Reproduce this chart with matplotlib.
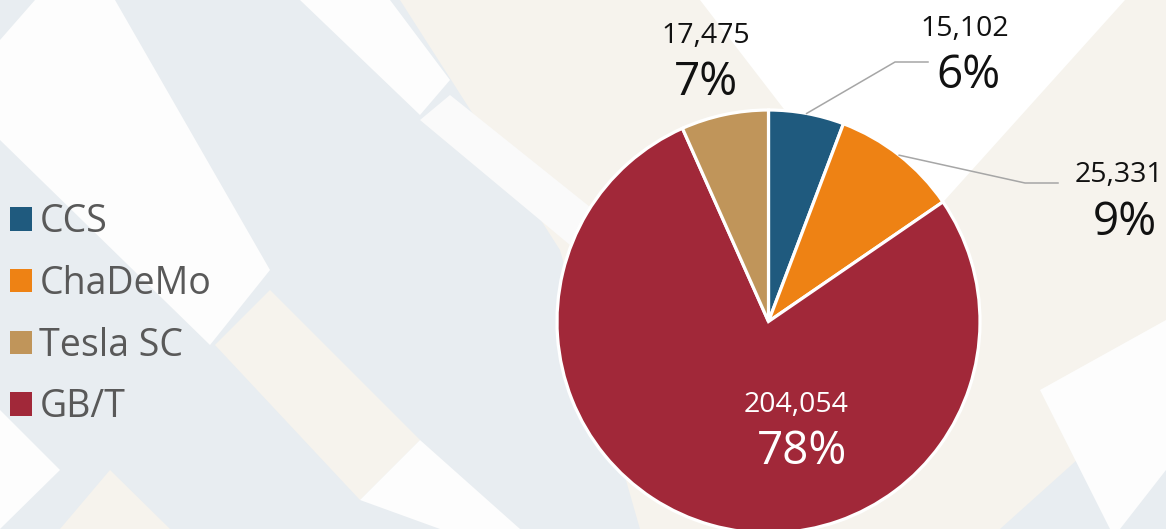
import numpy as np
import matplotlib.pyplot as plt
from matplotlib.patches import Polygon, Patch

plt.rcParams['font.family'] = ['Open Sans', 'DejaVu Sans']

# data, pie order clockwise from 12 o'clock
categories = ['CCS', 'ChaDeMo', 'GB/T', 'Tesla SC']
counts = [15102, 25331, 204054, 17475]
pct_labels = ['6%', '9%', '78%', '7%']
colors = ['#1F5A7E', '#EE8214', '#A12839', '#C0955A']
legend_order = ['CCS', 'ChaDeMo', 'Tesla SC', 'GB/T']

W, H = 1166, 529
fig = plt.figure(figsize=(W / 100, H / 100), dpi=100)
fig.patch.set_facecolor('#E8EDF1')
ax = fig.add_axes([0, 0, 1, 1])
ax.set_facecolor('none')


def Y(y):
    # pixel rows (top down) -> data y (bottom up)
    return H - y


# decorative woven background (pixel coords, top down)
bg_shapes = [
    ('#F6F3ED', [(400, 0), (1166, 0), (1166, 380), (1000, 529), (640, 529), (560, 250)]),
    ('#F6F3ED', [(215, 345), (270, 290), (420, 440), (360, 500)]),
    ('#F6F3ED', [(60, 529), (110, 470), (170, 529)]),
    ('#FDFDFD', [(35, 0), (115, 0), (270, 270), (210, 345), (0, 140), (0, 40)]),
    ('#FDFDFD', [(360, 500), (420, 440), (520, 529), (440, 529)]),
    ('#FDFDFD', [(0, 410), (60, 470), (0, 529)]),
    ('#FDFDFD', [(300, 0), (390, 0), (450, 80), (420, 115)]),
    ('#FAFAFA', [(420, 120), (450, 95), (600, 215), (570, 245)]),
    ('#FFFFFF', [(700, 0), (1125, 0), (900, 250), (800, 130)]),
    ('#FDFDFD', [(1040, 390), (1166, 320), (1166, 529), (1110, 529)]),
    ('#E8EDF1', [(1120, 529), (1166, 470), (1166, 529)]),
]
for col, pts in bg_shapes:
    ax.add_patch(Polygon([(x, Y(y)) for x, y in pts], closed=True,
                         facecolor=col, edgecolor='none', zorder=0))

cx, cy, r = 768.5, Y(321.5), 211.5
wedges, _ = ax.pie(counts, colors=colors, startangle=90, counterclock=False,
                   center=(cx, cy), radius=r,
                   wedgeprops=dict(edgecolor='white', linewidth=2.3))
for w in wedges:
    w.set_zorder(2)

ax.set_xlim(0, W)
ax.set_ylim(0, H)
ax.set_aspect('equal')
ax.axis('off')

# label positions (pixel coords, baselines)
num_pos = {'CCS': (965, 36), 'ChaDeMo': (1119, 182), 'GB/T': (796, 412), 'Tesla SC': (706, 43)}
pct_pos = {'CCS': (968, 88), 'ChaDeMo': (1125, 235), 'GB/T': (802, 464), 'Tesla SC': (706, 95)}
leader_pts = {'CCS': [(895, 62), (928, 62)], 'ChaDeMo': [(1025, 183), (1058, 183)]}

for w, cat, n, p in zip(wedges, categories, counts, pct_labels):
    tc = 'white' if cat == 'GB/T' else '#111111'
    x, y = num_pos[cat]
    ax.text(x, Y(y), f'{n:,}', ha='center', va='baseline', fontsize=20.5, color=tc, zorder=3)
    x, y = pct_pos[cat]
    ax.text(x, Y(y), p, ha='center', va='baseline', fontsize=33, color=tc, zorder=3)
    if cat in leader_pts:
        mid = np.deg2rad((w.theta1 + w.theta2) / 2)
        sx, sy = cx + r * np.cos(mid), cy + r * np.sin(mid)
        xs = [sx] + [q[0] for q in leader_pts[cat]]
        ys = [sy] + [Y(q[1]) for q in leader_pts[cat]]
        ax.plot(xs, ys, color='#A6A6A6', lw=1.1, zorder=3)

handles = [Patch(facecolor=colors[categories.index(c)], edgecolor='none') for c in legend_order]
ax.legend(handles, legend_order, loc='center left', bbox_to_anchor=(10 / W, 0.405),
          frameon=False, fontsize=27, labelcolor='#595959',
          handlelength=0.58, handleheight=0.58, handletextpad=0.2,
          labelspacing=0.63, borderaxespad=0, borderpad=0)

fig.savefig('out.png', dpi=100, facecolor=fig.get_facecolor())
